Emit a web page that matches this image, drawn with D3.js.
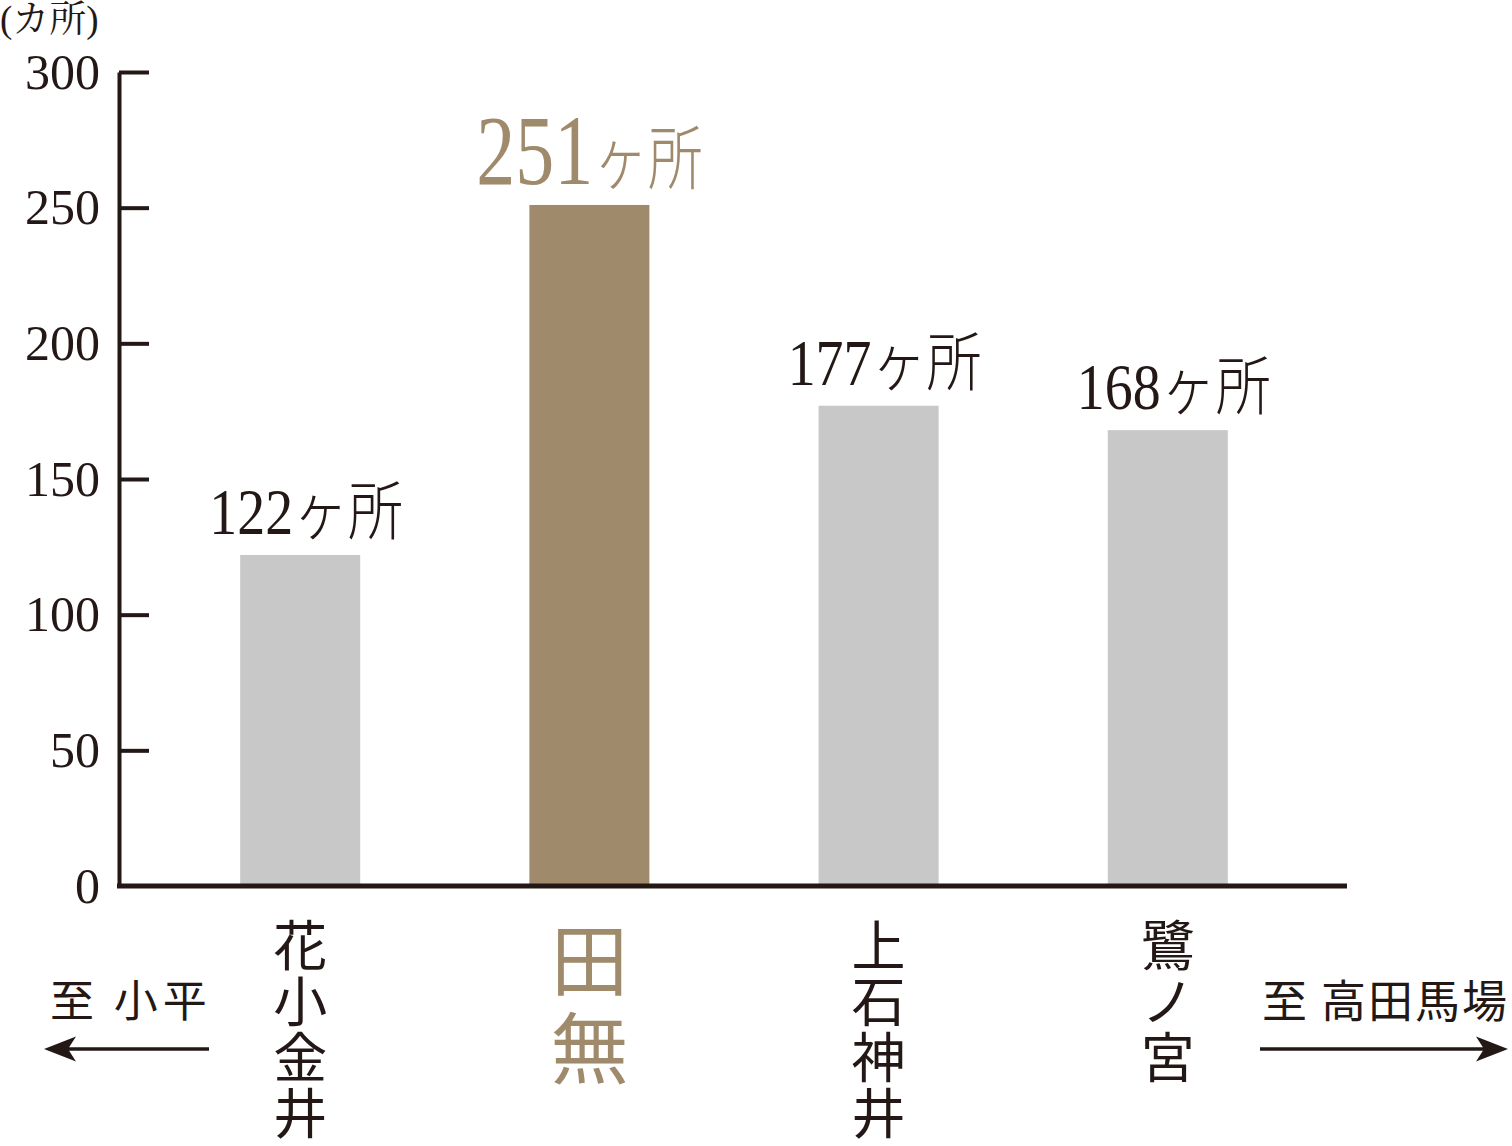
<!DOCTYPE html>
<html>
<head>
<meta charset="utf-8">
<script src="https://cdn.jsdelivr.net/npm/d3@7"></script>
<style>
  body { margin: 0; background: #fff; }
  text { font-family: "Liberation Serif", "Noto Serif CJK JP", "Noto Sans CJK JP", serif; fill: #231815; }
</style>
</head>
<body>
<div id="chart"></div>
<script>
/*
 * Station bar chart (カ所)
 */

var categories = ["花小金井", "田無", "上石神井", "鷺ノ宮"];
var counts = [122, 251, 177, 168];
var highlight = "田無";
var yTicks = [0, 50, 100, 150, 200, 250, 300];
var unitLabel = "(カ所)";
var countSuffix = "ヶ所";
var leftDirection = "至 小平";
var rightDirection = "至 高田馬場";

var width = 1512, height = 1146;
var ink = "#231815", grey = "#c8c8c8", brown = "#9f8b6c";

var svg = d3.select("#chart").append("svg")
  .attr("width", width).attr("height", height);

// scales
var x = d3.scaleBand().domain(categories)
  .range([71, 1397]).paddingInner(0.585).paddingOuter(0.585);
var y = d3.scaleLinear().domain([0, 300]).range([886, 72]);

// bars
svg.selectAll("rect.bar").data(categories).enter().append("rect")
  .attr("class", "bar")
  .attr("x", function(d){ return x(d); })
  .attr("width", x.bandwidth())
  .attr("y", function(d, i){ return y(counts[i]); })
  .attr("height", function(d, i){ return y(0) - y(counts[i]); })
  .style("fill", function(d){ return d == highlight ? brown : grey; });

// y axis, ticks pointing inward
var yAxis = svg.append("g").attr("transform", "translate(119,0)")
  .call(d3.axisLeft(y).tickValues(yTicks).tickSize(-30).tickPadding(19).tickSizeOuter(0));
yAxis.select(".domain").attr("stroke", ink).attr("stroke-width", 4);
yAxis.selectAll(".tick line").attr("stroke", ink).attr("stroke-width", 4);
yAxis.selectAll(".tick").filter(function(d){ return d == 0; }).select("line").remove();
yAxis.selectAll(".tick text")
  .style("font-family", "'Liberation Serif', serif")
  .style("font-size", "50px")
  .attr("fill", ink);

// baseline
svg.append("line")
  .attr("x1", 117).attr("x2", 1347)
  .attr("y1", y(0)).attr("y2", y(0))
  .attr("stroke", ink).attr("stroke-width", 5);

// unit label
svg.append("text").attr("x", 0).attr("y", 32)
  .style("font-size", "37px").text(unitLabel);

// value labels
categories.forEach(function(c, i){
  var hi = c == highlight;
  var g = svg.append("g")
    .attr("transform", "translate(" + (x(c) + x.bandwidth()/2 + (hi ? 0 : 6)) + "," + (y(counts[i]) - 21) + ") scale(" + (hi ? 0.78 : 0.86) + ",1)");
  var t = g.append("text").attr("text-anchor", "middle")
    .style("fill", hi ? brown : ink);
  t.append("tspan").style("font-size", hi ? "100px" : "65px").text(counts[i]);
  t.append("tspan").style("font-size", hi ? "70px" : "64px")
    .style("font-family", "Noto Sans CJK JP")
    .style("font-weight", 300)
    .text(countSuffix);
});

// vertical category names
categories.forEach(function(c, i){
  var hi = c == highlight;
  svg.append("text")
    .attr("x", x(c) + x.bandwidth()/2)
    .attr("y", hi ? 921 : 918)
    .style("writing-mode", "vertical-rl")
    .style("font-family", "Noto Sans CJK JP")
    .style("font-size", hi ? "78px" : "54px")
    .style("letter-spacing", hi ? "10px" : "2px")
    .style("fill", hi ? brown : ink)
    .text(c);
});

// direction arrows
function arrow(x1, x2, yy){
  var dir = x2 > x1 ? 1 : -1;
  svg.append("line").attr("x1", x1).attr("x2", x2 - dir*20)
    .attr("y1", yy).attr("y2", yy)
    .attr("stroke", ink).attr("stroke-width", 3.5);
  svg.append("path")
    .attr("d", "M0,0 L-32,-12.5 L-24,0 L-32,12.5 Z")
    .attr("transform", "translate(" + x2 + "," + yy + ") scale(" + dir + ",1)")
    .style("fill", ink);
}

svg.append("text").attr("x", 50).attr("y", 998)
  .attr("dominant-baseline", "central")
  .style("font-family", "Noto Sans CJK JP").style("font-size", "44px")
  .style("letter-spacing", "5px")
  .text(leftDirection);
arrow(209, 44, 1049);

svg.append("text").attr("x", 1262).attr("y", 998)
  .attr("dominant-baseline", "central")
  .style("font-family", "Noto Sans CJK JP").style("font-size", "45px")
  .style("letter-spacing", "2px")
  .text(rightDirection);
arrow(1260, 1508, 1049);
</script>
</body>
</html>
